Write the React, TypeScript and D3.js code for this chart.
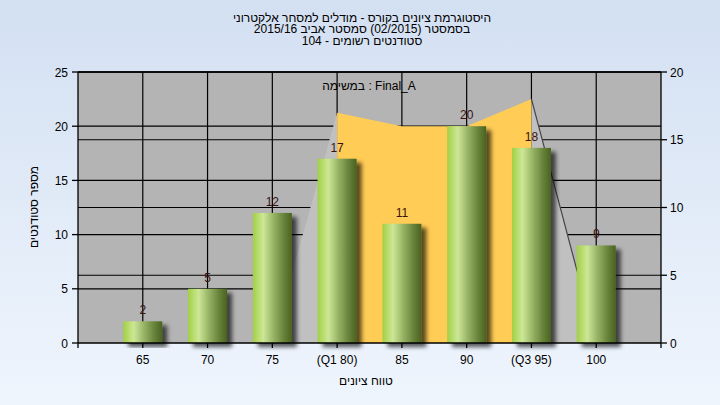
import React from 'react';
import * as d3 from 'd3';

const categories = ['65', '70', '75', '(Q1 80)', '85', '90', '(Q3 95)', '100'];
const counts = [2, 5, 12, 17, 11, 20, 18, 9];
const curveCats = ['75', '(Q1 80)', '85', '90', '(Q3 95)', '100'];
const curveValues = [0, 17, 16, 16, 18, 0];
const leftTicks = [0, 5, 10, 15, 20, 25];
const rightTicks = [0, 5, 10, 15, 20];
const titleLines = [
  'היסטוגרמת ציונים בקורס - מודלים למסחר אלקטרוני',
  'בסמסטר  (02/2015)  סמסטר אביב 2015/16',
  'סטודנטים רשומים - 104',
];
const legendText = 'במשימה : Final_A';
const xTitle = 'טווח ציונים';
const yTitle = 'מספר סטודנטים';

const W = 720, H = 405;
const L = 78, R = 661, T = 72, B = 343;
const FONT = '"Liberation Sans", Arial, sans-serif';

export default function App() {
  const slots = ['__s', ...categories, '__e'];
  const x = d3.scalePoint<string>().domain(slots).range([L, R]);
  const yL = d3.scaleLinear().domain([0, 25]).range([B, T]);
  const yR = d3.scaleLinear().domain([0, 20]).range([B, T]);
  const barW = 39;

  const pts = curveCats.map((c, i) => ({ x: x(c) as number, v: curveValues[i] }));
  const area = d3.area<{ x: number; v: number }>().x(d => d.x).y0(B).y1(d => yR(d.v));
  const line = d3.line<{ x: number; v: number }>().x(d => d.x).y(d => yR(d.v));
  const leftGray = pts.slice(0, 2);
  const orange = pts.slice(1, 5);
  const rightGray = pts.slice(4, 6);

  return (
    <div style={{ position: 'absolute', left: 0, top: 0 }}>
      <svg width={W} height={H} style={{ display: 'block' }} fontFamily={FONT}>
        <defs>
          <linearGradient id="bg" x1="0" y1="0" x2="0" y2="1">
            <stop offset="0" stopColor="#d3e0f2" />
            <stop offset="1" stopColor="#eff5fd" />
          </linearGradient>
          <linearGradient id="bar" x1="0" y1="0" x2="1" y2="0">
            <stop offset="0" stopColor="#a2d044" />
            <stop offset="0.27" stopColor="#cce796" />
            <stop offset="0.55" stopColor="#93b062" />
            <stop offset="0.8" stopColor="#66823a" />
            <stop offset="1" stopColor="#4a6220" />
          </linearGradient>
          <filter id="shadow" x="-20%" y="-10%" width="150%" height="130%">
            <feDropShadow dx="5" dy="4" stdDeviation="2" floodColor="#000" floodOpacity="0.65" />
          </filter>
        </defs>
        <rect x={0} y={0} width={W} height={H} fill="url(#bg)" />
        {/* title */}
        {titleLines.map((t, i) => (
          <text key={i} x={362} y={22 + i * 11.3} textAnchor="middle" fontSize={12} fill="#000">{t}</text>
        ))}
        {/* plot area */}
        <rect x={L} y={T} width={R - L} height={B - T} fill="#b4b4b4" />
        {/* gridlines */}
        {leftTicks.filter(t => t > 0).map(t => (
          <line key={'gl' + t} x1={L} x2={R} y1={yL(t)} y2={yL(t)} stroke="#000" strokeWidth={1.2} />
        ))}
        {rightTicks.filter(t => t > 0).map(t => (
          <line key={'gr' + t} x1={L} x2={R} y1={yR(t)} y2={yR(t)} stroke="#000" strokeWidth={1.2} />
        ))}
        {categories.map(c => (
          <line key={'gv' + c} x1={x(c)} x2={x(c)} y1={T} y2={B} stroke="#000" strokeWidth={1.2} />
        ))}
        {/* distribution area */}
        <path d={area(leftGray) || ''} fill="#c0c0c0" />
        <path d={area(rightGray) || ''} fill="#c0c0c0" />
        <path d={area(orange) || ''} fill="#ffcc55" />
        <path d={line(rightGray) || ''} fill="none" stroke="#444" strokeWidth={1.2} />
        {/* legend */}
        <text x={369} y={90} textAnchor="middle" fontSize={12} fill="#000">{legendText}</text>
        {/* bars */}
        {categories.map((c, i) => (
          <rect key={'b' + c} x={(x(c) as number) - barW / 2} y={yL(counts[i])} width={barW}
            height={B - yL(counts[i])} fill="url(#bar)" filter="url(#shadow)" />
        ))}
        {categories.map((c, i) => (
          <text key={'v' + c} x={x(c)} y={yL(counts[i]) - 7} textAnchor="middle" fontSize={12} fill="#3a1212">{counts[i]}</text>
        ))}
        {/* axes frame */}
        <line x1={L} x2={R} y1={T} y2={T} stroke="#000" strokeWidth={1.3} />
        <line x1={L} x2={L} y1={T} y2={B} stroke="#000" strokeWidth={1.3} />
        <line x1={R} x2={R} y1={T} y2={B} stroke="#000" strokeWidth={1.3} />
        <line x1={L} x2={R} y1={B} y2={B} stroke="#000" strokeWidth={1.3} />
        {leftTicks.map(t => (
          <g key={'lt' + t}>
            <line x1={L - 6} x2={L} y1={yL(t)} y2={yL(t)} stroke="#000" strokeWidth={1.3} />
            <text x={68} y={yL(t) + 4.5} textAnchor="end" fontSize={12} fill="#000">{t}</text>
          </g>
        ))}
        {rightTicks.map(t => (
          <g key={'rt' + t}>
            <line x1={R} x2={R + 6} y1={yR(t)} y2={yR(t)} stroke="#000" strokeWidth={1.3} />
            <text x={670} y={yR(t) + 4.5} textAnchor="start" fontSize={12} fill="#000">{t}</text>
          </g>
        ))}
        {slots.map(s => (
          <line key={'xt' + s} x1={x(s)} x2={x(s)} y1={B} y2={B + 5} stroke="#000" strokeWidth={1.3} />
        ))}
        {categories.map(c => (
          <text key={'xl' + c} x={x(c)} y={364} textAnchor="middle" fontSize={12} fill="#000">{c}</text>
        ))}
        <text x={366} y={385} textAnchor="middle" fontSize={12} fill="#000">{xTitle}</text>
        <text transform="translate(38,207) rotate(-90)" textAnchor="middle" fontSize={12} fill="#000">{yTitle}</text>
      </svg>
    </div>
  );
}
